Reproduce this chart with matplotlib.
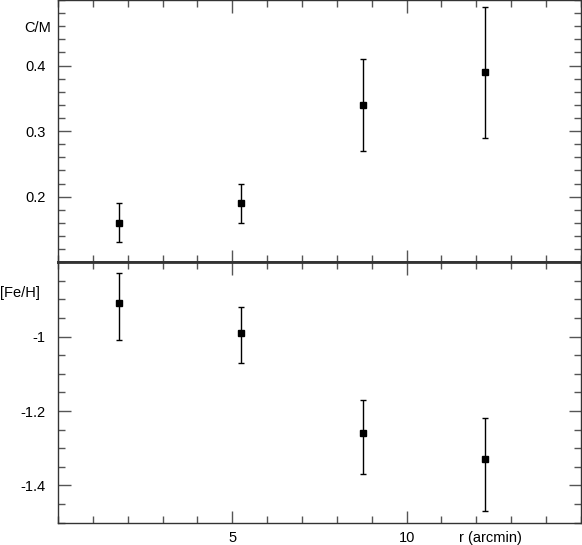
import numpy as np
import matplotlib.pyplot as plt
from matplotlib.ticker import MultipleLocator, FixedLocator

plt.rcParams['font.family'] = ['Liberation Sans', 'DejaVu Sans']

# radius of each bin (arcmin)
r = [1.75, 5.25, 8.75, 12.25]

# C/M ratio with errors
cm = [0.16, 0.19, 0.34, 0.39]
cm_err = [0.03, 0.03, 0.07, 0.10]

# [Fe/H] with lower / upper errors
feh = [-0.91, -0.99, -1.26, -1.33]
feh_lo = [0.10, 0.08, 0.11, 0.14]
feh_hi = [0.08, 0.07, 0.09, 0.11]

fig = plt.figure(figsize=(5.82, 5.45), dpi=100)
ax1 = fig.add_axes([0.0997, 0.519, 0.8983, 0.481])
ax2 = fig.add_axes([0.0997, 0.041, 0.8983, 0.478], sharex=ax1)

ax1.errorbar(r, cm, yerr=cm_err, fmt='s', color='black', ms=5,
             elinewidth=1, capsize=2, capthick=1)
ax2.errorbar(r, feh, yerr=[feh_lo, feh_hi], fmt='s', color='black', ms=5,
             elinewidth=1, capsize=2, capthick=1)

ax1.set_xlim(0, 15)
ax1.set_ylim(0.1, 0.5)
ax2.set_ylim(-1.5, -0.8)

ax1.yaxis.set_major_locator(FixedLocator([0.2, 0.3, 0.4]))
ax1.yaxis.set_minor_locator(MultipleLocator(0.02))
ax2.yaxis.set_major_locator(FixedLocator([-1.4, -1.2, -1.0]))
ax2.yaxis.set_minor_locator(MultipleLocator(0.05))
ax2.set_yticklabels(['-1.4', '-1.2', '-1'])
ax1.xaxis.set_major_locator(FixedLocator([5, 10]))
ax1.xaxis.set_minor_locator(MultipleLocator(1))

for ax in (ax1, ax2):
    ax.tick_params(which='both', direction='in', top=True, right=True,
                   labelsize=10.5, color='#555555', labelright=False)
    ax.tick_params(which='major', length=9, width=1, pad=9)
    ax.tick_params(which='minor', length=5, width=1)
    for s in ax.spines.values():
        s.set_color('#333333')
        s.set_linewidth(1)
ax1.spines['bottom'].set_linewidth(2)
ax2.spines['top'].set_linewidth(2)
ax1.tick_params(labelbottom=False)
ax2.tick_params(axis='x', which='major', pad=6)

fig.text(0.041, 0.948, 'C/M', ha='left', va='center', fontsize=10.5)
fig.text(0.0, 0.462, '[Fe/H]', ha='left', va='center', fontsize=10.5)
fig.text(0.842, 0.013, 'r (arcmin)', ha='center', va='center', fontsize=10.5)

plt.savefig('out.png', dpi=100)
